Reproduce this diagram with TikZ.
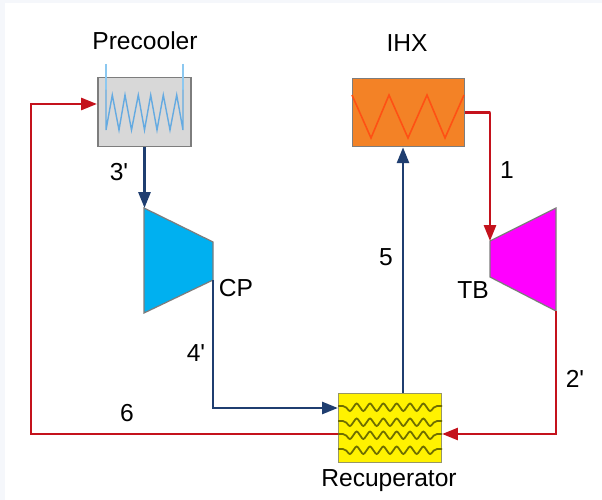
\documentclass[tikz,border=0pt]{standalone}
\usepackage{fontspec}
\setmainfont{Liberation Sans}
\definecolor{hotred}{RGB}{196,18,28}
\definecolor{coldblue}{RGB}{31,62,112}
\definecolor{coolgrey}{RGB}{216,216,216}
\definecolor{ihxorange}{RGB}{243,130,38}
\definecolor{coilred}{RGB}{255,80,20}
\definecolor{coilblue}{RGB}{100,170,225}
\definecolor{pipeblue}{RGB}{140,200,240}
\definecolor{cpblue}{RGB}{0,176,240}
\definecolor{tbmagenta}{RGB}{255,0,255}
\definecolor{edgegrey}{RGB}{125,125,125}
\definecolor{wavyolive}{RGB}{110,110,0}
\definecolor{pagepale}{RGB}{245,247,251}
\usetikzlibrary{arrows.meta,positioning,calc}
\tikzset{
  unitbox/.style={draw=edgegrey,line width=0.9pt,inner sep=0pt},
  hotline/.style={draw=hotred,line width=1.5pt},
  coldline/.style={draw=coldblue,line width=1.5pt},
  hotflow/.style={hotline,-{Triangle[length=9pt,width=6.8pt]}},
  coldflow/.style={coldline,-{Triangle[length=9pt,width=6.8pt]}},
  lbl/.style={font=\fontsize{14}{16}\selectfont,inner sep=0pt},
}

\begin{document}
\begin{tikzpicture}[x=0.02cm,y=-0.02cm]
  % Page
  \fill[pagepale] (0,0) rectangle (602,500);
  \fill[white] (5,3) rectangle (602,500);
  \useasboundingbox (0,0) rectangle (602,500);
  % Units
  \node[unitbox,fill=coolgrey,minimum width=1.87cm,minimum height=1.38cm] (pre) at (144.5,112) {};
  \node[unitbox,fill=ihxorange,minimum width=2.24cm,minimum height=1.36cm] (ihx) at (408.5,112.5) {};
  \node[unitbox,draw=edgegrey!80!yellow,line width=0.7pt,fill=yellow,minimum width=2.06cm,minimum height=1.38cm] (rec) at (390,428) {};
  % Compressor and turbine
  \coordinate (cpin) at (144,208);
  \coordinate (cpout) at (213,280);
  \coordinate (tbin) at (490,241);
  \coordinate (tbout) at (556,311);
  \draw[edgegrey,line width=0.7pt,fill=cpblue] (cpin) -- (213,242) -- (cpout) -- (144,313) -- cycle;
  \draw[edgegrey,line width=0.7pt,fill=tbmagenta] (tbin) -- (556,208) -- (tbout) -- (490,277) -- cycle;
  % Precooler coil
  \draw[pipeblue,line width=0.8pt] (106,64) -- (106,90);
  \draw[pipeblue,line width=0.8pt] (183,64) -- (183,90);
  \draw[coilblue,line width=0.8pt] (106,90) -- (106,130) -- (112.3,95) -- (119,130) -- (125,95) -- (131.5,130)
    -- (138.3,95) -- (144.5,130) -- (150.7,95) -- (157,130) -- (163.3,95) -- (170,130) -- (176.7,95) -- (183,130) -- (183,90);
  % IHX coil
  \draw[coilred,line width=0.9pt] (352,95) -- (371,138) -- (389,95) -- (408,138) -- (427,95) -- (445,138) -- (464,95);
  % Recuperator waves
  \foreach \yy in {406,421,434,449} {
    \draw[wavyolive,line width=1pt,rounded corners=1.2pt] (338,\yy) -- (345,\yy) -- ++(5,6)
      \foreach \xx in {0,1,...,5} { -- ++(6.67,-9.5) -- ++(6.67,9.5) }
      -- (435,\yy) -- (442,\yy);
  }
  % Hot side
  \draw[hotflow] (ihx.east) -- ++(25,0) -| (tbin);
  \draw[hotflow] (tbout) |- (rec.east |- 0,434);
  \draw[hotflow] (rec.west |- 0,434) -- (31,434) |- (pre.west |- 0,104);
  % Cold side
  \draw[coldflow] (pre.south) -- (pre.south |- cpin);
  \draw[coldflow] (cpout) |- (rec.west |- 0,408);
  \draw[coldflow] (rec.north -| 403,0) -- (ihx.south -| 403,0);
  % Labels
  \node[lbl] (prelbl) at (145,41) {Precooler};
  \node[lbl] (ihxlbl) at (407,43) {IHX};
  \node[lbl] (reclbl) at (389,481) {Recuperator};
  \node[lbl] (cplbl) at (236,288) {CP};
  \node[lbl] (tblbl) at (473,290) {TB};
  \node[lbl] (s1) at (507,170) {1};
  \node[lbl] (s2) at (575,379) {2\textquotesingle};
  \node[lbl] (s3) at (119,172) {3\textquotesingle};
  \node[lbl] (s4) at (196,353) {4\textquotesingle};
  \node[lbl] (s5) at (386,257) {5};
  \node[lbl] (s6) at (127,413) {6};
\end{tikzpicture}
\end{document}
